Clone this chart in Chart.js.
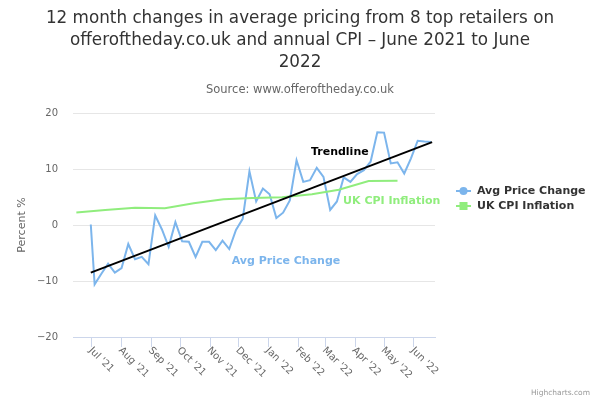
<!DOCTYPE html>
<html>
<head>
<meta charset="utf-8">
<script src="https://cdn.jsdelivr.net/npm/chart.js@4.4.0/dist/chart.umd.min.js"></script>
<style>
  html, body { margin: 0; padding: 0; background: #fff; }
  #wrap { width: 600px; height: 400px; }
</style>
</head>
<body>
<div id="wrap"><canvas id="chart"></canvas></div>
<script>
const titleLines = ['12 month changes in average pricing from 8 top retailers on', 'offeroftheday.co.uk and annual CPI – June 2021 to June', '2022']
const subtitleText = 'Source: www.offeroftheday.co.uk'

const monthTicks = ['2021-07-01', '2021-08-01', '2021-09-01', '2021-10-01', '2021-11-01', '2021-12-01',
  '2022-01-01', '2022-02-01', '2022-03-01', '2022-04-01', '2022-05-01', '2022-06-01']
const monthLabels = ["Jul '21", "Aug '21", "Sep '21", "Oct '21", "Nov '21", "Dec '21",
  "Jan '22", "Feb '22", "Mar '22", "Apr '22", "May '22", "Jun '22"]

const avgDates = ['2021-06-30', '2021-07-04', '2021-07-11', '2021-07-18', '2021-07-25', '2021-08-01',
  '2021-08-08', '2021-08-15', '2021-08-22', '2021-08-29', '2021-09-05', '2021-09-12', '2021-09-19',
  '2021-09-26', '2021-10-03', '2021-10-10', '2021-10-17', '2021-10-24', '2021-10-31', '2021-11-07',
  '2021-11-14', '2021-11-21', '2021-11-28', '2021-12-05', '2021-12-12', '2021-12-19', '2021-12-26',
  '2022-01-02', '2022-01-09', '2022-01-16', '2022-01-23', '2022-01-30', '2022-02-06', '2022-02-13',
  '2022-02-20', '2022-02-27', '2022-03-06', '2022-03-13', '2022-03-20', '2022-03-27', '2022-04-03',
  '2022-04-10', '2022-04-17', '2022-04-24', '2022-05-01', '2022-05-08', '2022-05-15', '2022-05-22',
  '2022-05-29', '2022-06-05', '2022-06-12', '2022-06-19']
const avgValues = [0.1, -10.6, -8.7, -6.9, -8.5, -7.7, -3.4, -6.1, -5.7, -7.0, 1.7, -0.8, -3.9,
  0.5, -2.9, -3.0, -5.7, -3.0, -3.0, -4.5, -2.8, -4.3, -0.9, 1.1, 9.6, 4.2, 6.5,
  5.5, 1.25, 2.2, 4.4, 11.55, 7.7, 8.0, 10.2, 8.6, 2.7, 4.2, 8.5, 7.7, 9.1,
  9.8, 11.3, 16.55, 16.5, 11.0, 11.2, 9.2, 11.9, 15.05, 14.9, 14.8]

const cpiDates = ['2021-06-15', '2021-07-15', '2021-08-15', '2021-09-15', '2021-10-15', '2021-11-15',
  '2021-12-15', '2022-01-15', '2022-02-15', '2022-03-15', '2022-04-15', '2022-05-15']
const cpiValues = [2.25, 2.7, 3.1, 3.0, 3.9, 4.6, 4.8, 4.95, 5.5, 6.3, 7.85, 7.9]

const trendDates = ['2021-06-30', '2022-06-20']
const trendValues = [-8.5, 14.8]

const yTicks = [-20, -10, 0, 10, 20]

const FONT = "'DejaVu Sans', sans-serif"
const BLUE = '#7cb5ec'
const GREEN = '#90ed7d'

const toDay = s => (Date.parse(s) - Date.parse('2021-07-01')) / 86400000
const pts = (dates, vals) => dates.map((d, i) => ({ x: toDay(d), y: vals[i] }))

// labels, legend and credits drawn the way highcharts places them
const extras = {
  id: 'extras',
  afterDraw(chart) {
    const ctx = chart.ctx
    const xs = chart.scales.x
    const ys = chart.scales.y
    ctx.save()

    // rotated month labels
    ctx.font = '10px ' + FONT
    ctx.fillStyle = '#666'
    ctx.textAlign = 'left'
    ctx.textBaseline = 'middle'
    monthTicks.forEach((d, i) => {
      const x = xs.getPixelForValue(toDay(d))
      ctx.save()
      ctx.translate(x - 1.5, xs.top + 12)
      ctx.rotate(Math.PI / 4)
      ctx.fillText(monthLabels[i], 0, 0)
      ctx.restore()
    })

    // series labels
    ctx.font = 'bold 11px ' + FONT
    ctx.textAlign = 'center'
    const lab = (txt, color, d, v) => {
      ctx.fillStyle = color
      ctx.fillText(txt, xs.getPixelForValue(toDay(d)), ys.getPixelForValue(v))
    }
    lab('Trendline', '#000', '2022-03-16', 13.0)
    lab('UK CPI Inflation', GREEN, '2022-05-09', 4.3)
    lab('Avg Price Change', BLUE, '2022-01-19', -6.4)

    // legend
    const items = [['Avg Price Change', BLUE, 'circle'], ['UK CPI Inflation', GREEN, 'square']]
    items.forEach((it, i) => {
      const y = 191 + i * 15
      ctx.strokeStyle = it[1]
      ctx.fillStyle = it[1]
      ctx.lineWidth = 2
      ctx.beginPath()
      ctx.moveTo(456, y)
      ctx.lineTo(471, y)
      ctx.stroke()
      if (it[2] === 'circle') {
        ctx.beginPath()
        ctx.arc(463.5, y, 4, 0, Math.PI * 2)
        ctx.fill()
      } else {
        ctx.fillRect(459.5, y - 4, 8, 8)
      }
      ctx.fillStyle = '#333'
      ctx.textAlign = 'left'
      ctx.fillText(it[0], 477, y)
    })

    // credits
    ctx.font = '7.5px ' + FONT
    ctx.fillStyle = '#999'
    ctx.textAlign = 'right'
    ctx.textBaseline = 'alphabetic'
    ctx.fillText('Highcharts.com', 590, 395)
    ctx.restore()
  }
}

const config = {
  type: 'line',
  data: {
    datasets: [{
      label: 'Trendline',
      data: pts(trendDates, trendValues),
      borderColor: '#000',
      borderWidth: 2,
      pointRadius: 0,
      order: 0
    }, {
      label: 'Avg Price Change',
      data: pts(avgDates, avgValues),
      borderColor: BLUE,
      borderWidth: 2,
      pointRadius: 0,
      order: 2
    }, {
      label: 'UK CPI Inflation',
      data: pts(cpiDates, cpiValues),
      borderColor: GREEN,
      borderWidth: 2,
      pointRadius: 0,
      order: 1
    }]
  },
  options: {
    responsive: false,
    animation: false,
    devicePixelRatio: 1,
    layout: { padding: 0 },
    plugins: {
      legend: { display: false },
      tooltip: { enabled: false },
      title: {
        display: true,
        text: titleLines,
        color: '#333',
        font: { family: FONT, size: 16.8, weight: 'normal', lineHeight: 22 / 16.8 },
        padding: { top: 8, bottom: 9 }
      },
      subtitle: {
        display: true,
        text: subtitleText,
        color: '#666',
        font: { family: FONT, size: 11.5, weight: 'normal', lineHeight: 14 / 11.5 },
        padding: { top: 0, bottom: 16 }
      }
    },
    scales: {
      x: {
        type: 'linear',
        min: -19.5,
        max: 357,
        afterBuildTicks: s => { s.ticks = monthTicks.map(d => ({ value: toDay(d) })) },
        afterFit: s => { s.height = 63 },
        ticks: { display: false },
        grid: { display: true, drawOnChartArea: false, drawTicks: true, tickLength: 10, color: '#ccd6eb' },
        border: { display: true, color: '#ccd6eb' }
      },
      y: {
        min: -20,
        max: 20,
        afterBuildTicks: s => { s.ticks = yTicks.map(v => ({ value: v })) },
        afterFit: s => { s.width = 73 },
        ticks: {
          color: '#666',
          font: { family: FONT, size: 10 },
          padding: 15,
          callback: v => String(v).replace('-', '\u2212')
        },
        grid: { color: '#e6e6e6', drawTicks: false },
        border: { display: false },
        title: {
          display: true,
          text: 'Percent %',
          color: '#666',
          font: { family: FONT, size: 11 },
          padding: { top: 16, bottom: 0 }
        }
      },
      side: {
        position: 'right',
        display: true,
        afterFit: s => { s.width = 165 },
        ticks: { display: false },
        grid: { display: false },
        border: { display: false }
      }
    }
  },
  plugins: [extras]
}

const canvas = document.getElementById('chart')
canvas.width = 600
canvas.height = 400
new Chart(canvas.getContext('2d'), config)
</script>
</body>
</html>
